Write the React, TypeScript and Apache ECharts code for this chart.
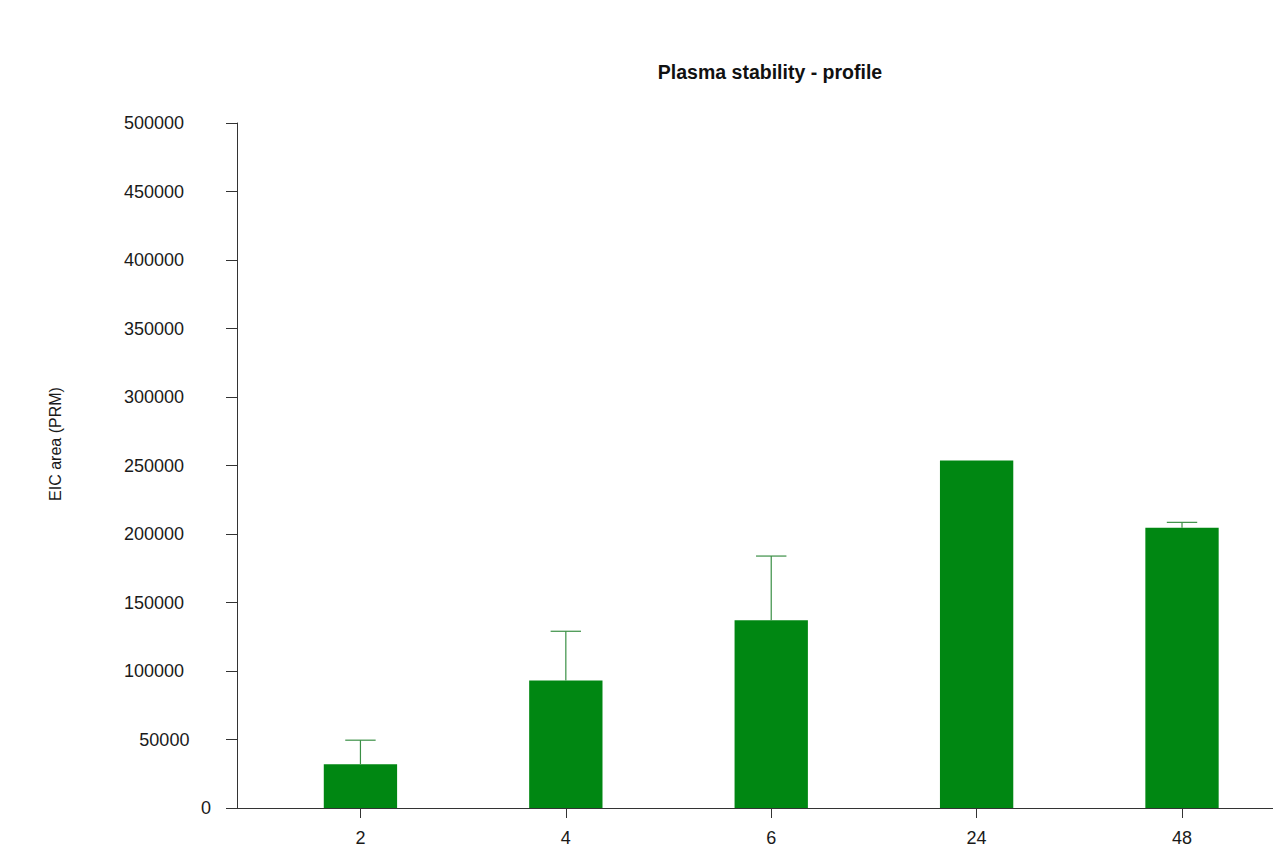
import React, { useEffect, useRef } from "react";
import * as echarts from "echarts";

// Sampling times (h) and measured EIC areas
const timepoints = ["2", "4", "6", "24", "48"];
const meanArea = [32000, 93000, 137000, 253600, 204600];
const upperError = [49500, 129000, 183900, null, 208500];
const yTicks = [0, 50000, 100000, 150000, 200000, 250000, 300000, 350000, 400000, 450000, 500000];

const FONT = "'Liberation Sans', Arial, Helvetica, sans-serif";
const GREEN = "#008712";
const AXIS = "#333333";

export default function App() {
  const ref = useRef<HTMLDivElement>(null);

  useEffect(() => {
    if (!ref.current) return;
    const chart = echarts.init(ref.current, undefined, { renderer: "svg" });

    const idx = timepoints.map((_, i) => i);
    const barData = meanArea.map((v, i) => [i, v]);
    const errData = upperError
      .map((u, i) => (u == null ? null : [i, meanArea[i], u]))
      .filter((d) => d != null);

    // right-padding per digit count keeps the tick labels in a staggered column
    const rich: Record<string, any> = {};
    for (let n = 1; n <= 6; n++) {
      rich["d" + n] = {
        fontFamily: FONT,
        fontSize: 18,
        color: "#1a1a1a",
        align: "right",
        padding: [0, (n - 1) * 5.4, 0, 0],
      };
    }

    chart.setOption({
      animation: false,
      backgroundColor: "#ffffff",
      grid: { left: 237, right: 0, top: 123, bottom: 59 },
      xAxis: {
        type: "value",
        min: -0.601,
        max: 4.443,
        axisLine: { show: true, onZero: false, lineStyle: { color: AXIS, width: 1 } },
        axisTick: { show: true, length: 10, lineStyle: { color: AXIS }, customValues: idx },
        axisLabel: {
          show: true,
          customValues: idx,
          margin: 21,
          fontFamily: FONT,
          fontSize: 18,
          color: "#1a1a1a",
          formatter: (v: number) => timepoints[Math.round(v)] ?? "",
        },
        splitLine: { show: false },
      },
      yAxis: {
        type: "value",
        min: 0,
        max: 500000,
        interval: 50000,
        axisLine: { show: true, onZero: false, lineStyle: { color: AXIS, width: 1 } },
        axisTick: { show: true, length: 11, lineStyle: { color: AXIS }, customValues: yTicks },
        axisLabel: {
          margin: 26,
          customValues: yTicks,
          formatter: (v: number) => {
            const s = String(v);
            return "{d" + s.length + "|" + s + "}";
          },
          rich,
        },
        splitLine: { show: false },
      },
      graphic: [
        {
          type: "text",
          x: 770,
          y: 72,
          style: {
            text: "Plasma stability - profile",
            fontFamily: FONT,
            fontSize: 19.5,
            fontWeight: "bold",
            fill: "#111111",
            align: "center",
            verticalAlign: "middle",
          },
        },
        {
          type: "text",
          x: 55,
          y: 444,
          rotation: Math.PI / 2,
          style: {
            text: "EIC area (PRM)",
            fontFamily: FONT,
            fontSize: 16,
            fill: "#1a1a1a",
            align: "center",
            verticalAlign: "middle",
          },
        },
      ],
      series: [
        {
          type: "custom",
          name: "mean",
          data: barData,
          encode: { x: 0, y: 1 },
          renderItem: (params: any, api: any) => {
            const i = api.value(0);
            const top = api.coord([i, api.value(1)]);
            const base = api.coord([i, 0]);
            const w = api.size([1, 0])[0] * 0.357;
            return {
              type: "rect",
              shape: { x: top[0] - w / 2, y: top[1], width: w, height: base[1] - top[1] },
              style: { fill: GREEN },
            };
          },
          z: 2,
        },
        {
          type: "custom",
          name: "error",
          data: errData,
          encode: { x: 0, y: [1, 2] },
          renderItem: (params: any, api: any) => {
            const i = api.value(0);
            const lo = api.coord([i, api.value(1)]);
            const hi = api.coord([i, api.value(2)]);
            const cap = api.size([1, 0])[0] * 0.148;
            const stroke = { stroke: "#3a8f45", lineWidth: 1.2 };
            return {
              type: "group",
              children: [
                { type: "line", shape: { x1: lo[0], y1: lo[1], x2: hi[0], y2: hi[1] }, style: stroke },
                { type: "line", shape: { x1: hi[0] - cap / 2, y1: hi[1], x2: hi[0] + cap / 2, y2: hi[1] }, style: stroke },
              ],
            };
          },
          z: 3,
        },
      ],
    });

    return () => chart.dispose();
  }, []);

  return (
    <div
      ref={ref}
      style={{ position: "fixed", left: 0, top: 0, width: 1273, height: 867, background: "#fff" }}
    />
  );
}
